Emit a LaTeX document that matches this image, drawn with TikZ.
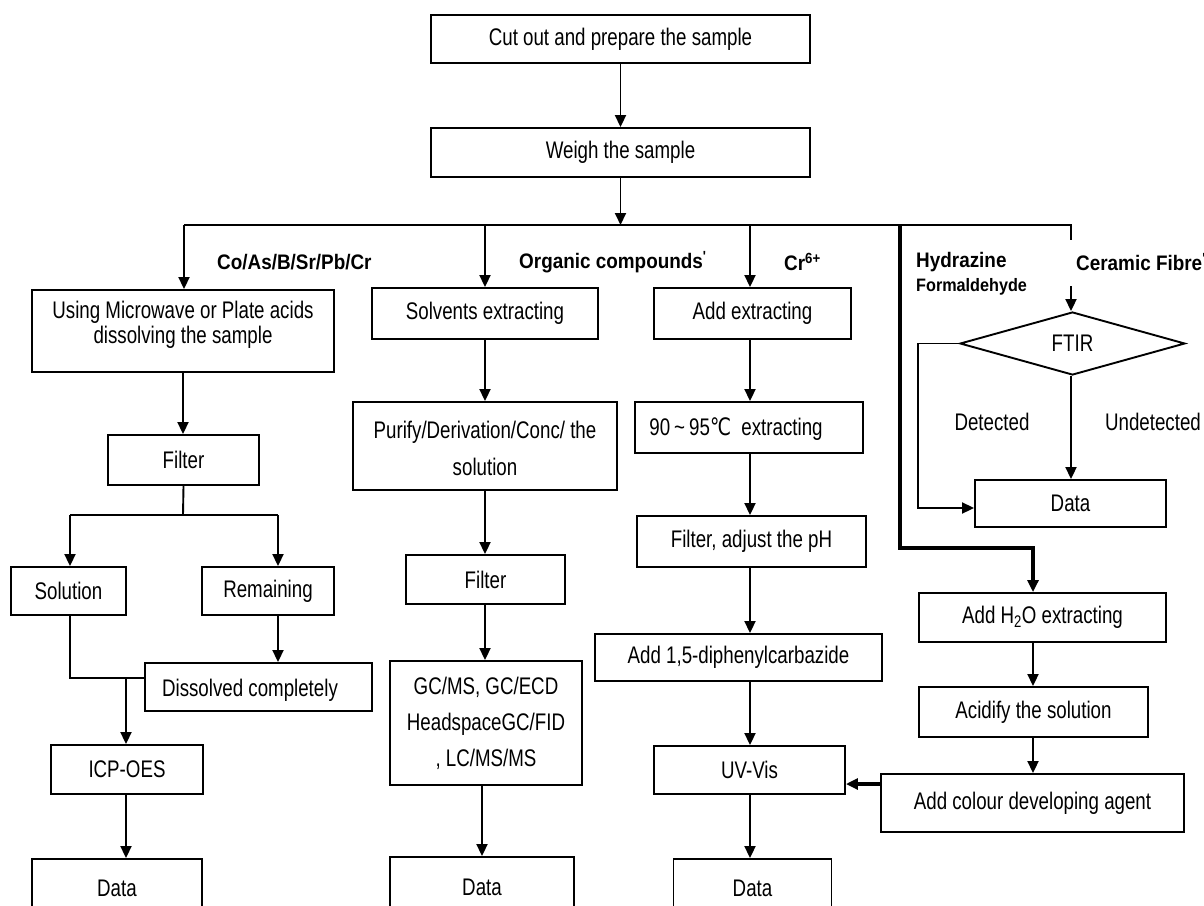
\documentclass[tikz,border=0pt]{standalone}
\usepackage{fontspec}
\setmainfont{Liberation Sans}[FakeStretch=0.78]
\newfontfamily\lblfont{Liberation Sans}[FakeStretch=0.9]
\newfontfamily\symfont{DejaVu Sans}[FakeStretch=0.78]
\usetikzlibrary{arrows.meta,shapes.geometric}
\begin{document}
\begin{tikzpicture}[x=1pt,y=-1pt,
  box/.style 2 args={draw, line width=1.9pt, inner sep=0pt, minimum width=#1, minimum height=#2, font=\fontsize{24}{27}\selectfont, align=center},
  txt/.style={inner sep=0pt, font=\fontsize{24}{27}\selectfont, align=center},
  lbl/.style={inner sep=0pt, anchor=west, font=\lblfont\bfseries\fontsize{21}{23}\selectfont},
  ln/.style={line width=1.9pt},
  arr/.style={line width=1.9pt, -{Triangle[length=12pt,width=11pt]}},
  heavyarr/.style={line width=3.4pt, -{Triangle[length=12pt,width=11pt]}},
]
\clip (0,0) rectangle (1204,905);
\fill[white] (0,0) rectangle (1204,905);

% top
\node[box={379pt}{48pt}] (cut) at (620.5,39) {Cut out and prepare the sample};
\node[box={379pt}{49pt}] (weigh) at (620.5,152.5) {Weigh the sample};
\draw[arr] (cut) -- (weigh);
\coordinate (J) at (620.5,225);
\draw[arr] (weigh) -- (J);

% branch line
\coordinate (bL) at (184,225);
\coordinate (bO) at (485,225);
\coordinate (bC) at (750,225);
\coordinate (bH) at (900,225);
\coordinate (bF) at (1071,225);
\coordinate (bFe) at (1071,240);
\draw[ln] (bL) -- (bF) -- (bFe);

% labels
\node[lbl] (coas) at (217,262) {Co/As/B/Sr/Pb/Cr};
\node[lbl] (orgl) at (519,262) {Organic compounds\textsuperscript{'}};
\node[lbl] (crl) at (784,262) {Cr\textsuperscript{6+}};
\node[lbl] (hyd) at (916,262) {Hydrazine};
\node[lbl, font=\lblfont\bfseries\fontsize{18}{20}\selectfont] (form) at (916,287) {Formaldehyde};
\node[lbl] (cer) at (1076,262) {Ceramic Fibre\textsuperscript{'}};

% left column
\node[box={302pt}{82pt}] (using) at (183,331) {};
\node[txt, font=\fontsize{24}{25}\selectfont] (usingt) at (183,324.5) {Using Microwave or Plate acids\\dissolving the sample};
\draw[arr] (bL) -- (bL |- using.north);
\node[box={151pt}{50pt}] (filterL) at (183.5,460) {Filter};
\draw[arr] (using.south) -- (using.south |- filterL.north);
\coordinate (sp) at (183,515);
\coordinate (spL) at (70,515);
\coordinate (spR) at (278,515);
\draw[ln] (filterL.south) -- (sp);
\draw[ln] (spL) -- (spR);
\node[box={115pt}{48pt}] (solution) at (68.5,591) {Solution};
\node[box={132pt}{48pt}] (remaining) at (268,591) {Remaining};
\draw[arr] (spL) -- (spL |- solution.north);
\draw[arr] (spR) -- (spR |- remaining.north);
\node[box={227pt}{48pt}] (dissolved) at (258.5,687) {};
\node[txt] (dissolvedt) at (250,690) {Dissolved completely};
\coordinate (sj) at (70,678);
\coordinate (ij) at (126,678);
\draw[ln] (spL |- solution.south) -- (sj) -- (dissolved.west |- sj);
\draw[arr] (spR |- remaining.south) -- (spR |- dissolved.north);
\node[box={152pt}{49pt}] (icp) at (127,769.5) {ICP-OES};
\draw[arr] (ij) -- (ij |- icp.north);
\node[box={170pt}{58pt}] (dataL) at (117,888) {Data};
\draw[arr] (ij |- icp.south) -- (ij |- dataL.north);

% middle column
\node[box={226pt}{51pt}] (solvents) at (485,313.5) {Solvents extracting};
\draw[arr] (bO) -- (solvents.north);
\node[box={264pt}{88pt}] (purify) at (485,446) {};
\node[txt, font=\fontsize{24}{37}\selectfont] (purifyt) at (485,448.5) {Purify/Derivation/Conc/ the\\solution};
\draw[arr] (solvents) -- (purify);
\node[box={159pt}{49pt}] (filterM) at (485.5,579.5) {Filter};
\draw[arr] (purify.south) -- (purify.south |- filterM.north);
\node[box={192pt}{124pt}, font=\fontsize{24}{36}\selectfont] (gc) at (486,723) {GC/MS, GC/ECD\\HeadspaceGC/FID\\, LC/MS/MS};
\draw[arr] (purify.south |- filterM.south) -- (purify.south |- gc.north);
\node[box={184pt}{60pt}] (dataM) at (482,887) {Data};
\draw[arr] (dataM.north |- gc.south) -- (dataM.north);

% Cr column
\node[box={197pt}{51pt}] (addext) at (752.5,313.5) {Add extracting};
\draw[arr] (bC) -- (bC |- addext.north);
\node[box={228pt}{51pt}] (temp) at (749,427.5) {};
\node[txt] (tempt) at (736,429) {90\,\textasciitilde\,95{\symfont ℃}\ \ extracting};
\draw[arr] (bC |- addext.south) -- (bC |- temp.north);
\node[box={229pt}{51pt}] (filterpH) at (751.5,541.5) {Filter, adjust the pH};
\draw[arr] (bC |- temp.south) -- (bC |- filterpH.north);
\node[box={287pt}{47pt}] (add15) at (738.5,657.5) {Add 1,5-diphenylcarbazide};
\draw[arr] (bC |- filterpH.south) -- (bC |- add15.north);
\node[box={191pt}{48pt}] (uvvis) at (749.5,770) {UV-Vis};
\draw[arr] (bC |- add15.south) -- (bC |- uvvis.north);
\node[box={158pt}{58pt}] (dataR) at (752.5,888) {Data};
\draw[arr] (bC |- uvvis.south) -- (bC |- dataR.north);

% right: FTIR
\coordinate (cf) at (1071,286);
\node[draw, diamond, line width=1.9pt, inner sep=0pt, minimum width=225pt, minimum height=63pt, font=\fontsize{24}{27}\selectfont] (ftir) at (1072.5,343.5) {FTIR};
\draw[arr] (cf) -- (cf |- ftir.north);
\node[box={191pt}{47pt}] (dataF) at (1070.5,503.5) {Data};
\coordinate (dl) at (918,343.5);
\coordinate (dl2) at (918,508);
\draw[arr] (ftir.west) -- (dl) -- (dl2) -- (dataF.west |- dl2);
\draw[arr] (cf |- ftir.south) -- (cf |- dataF.north);
\node[txt] (det) at (992,422) {Detected};
\node[txt] (undet) at (1153,422) {Undetected};

% right: hydrazine
\coordinate (hk1) at (900,548);
\coordinate (hk2) at (1033,548);
\node[box={247pt}{49pt}] (h2o) at (1042.5,617.5) {Add H\textsubscript{2}O extracting};
\draw[heavyarr] (bH) -- (hk1) -- (hk2) -- (hk2 |- h2o.north);
\node[box={229pt}{50pt}] (acidify) at (1033.5,712) {Acidify the solution};
\draw[arr] (hk2 |- h2o.south) -- (hk2 |- acidify.north);
\node[box={303pt}{58pt}] (colour) at (1032.5,803) {Add colour developing agent};
\draw[arr] (hk2 |- acidify.south) -- (hk2 |- colour.north);
\coordinate (ca) at (881,784);
\draw[heavyarr] (colour.west |- ca) -- (uvvis.east |- ca);
\end{tikzpicture}
\end{document}
